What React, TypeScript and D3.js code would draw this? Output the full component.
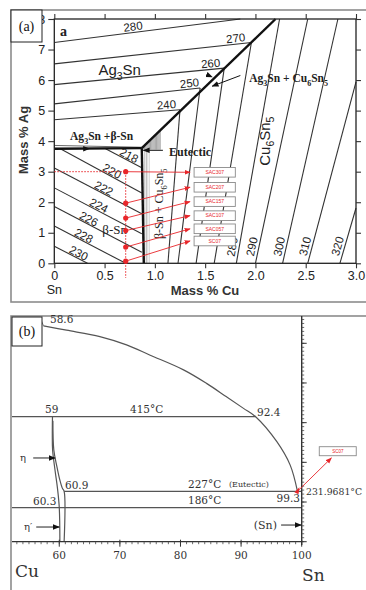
import * as d3 from "d3";
import { useEffect, useRef } from "react";

// ---------- panel (a): Sn-Ag-Cu liquidus projection ----------
const agTicks = [0, 1, 2, 3, 4, 5, 6, 7, 8];
const cuTicks = [0, 0.5, 1, 1.5, 2, 2.5, 3];

// Ag3Sn primary field isotherms (start on Cu = 0 axis, end on valley / top)
const ag3snTemps = [240, 250, 260, 270, 280];
const ag3snStartAg = [4.7, 5.22, 5.85, 6.53, 7.23];
const ag3snEndCu = [1.25, 1.45, 1.69, 1.96, 1.85];
const ag3snEndAg = [5.03, 5.74, 6.39, 7.23, 8];
const ag3snLabelCu = [1.12, 1.35, 1.56, 1.81, 0.79];

// beta-Sn primary field isotherms
const snTemps = [218, 220, 222, 224, 226, 228, 230];
const snStartCu = [0.51, 0.06, 0, 0, 0, 0, 0];
const snStartAg = [3.75, 3.75, 3.12, 2.47, 1.86, 1.22, 0.56];
const snEndCu = [0.87, 0.87, 0.87, 0.87, 0.87, 0.71, 0.33];
const snEndAg = [3.13, 2.3, 1.62, 0.97, 0.36, 0, 0];
const snLabelCu = [0.72, 0.55, 0.47, 0.42, 0.32, 0.27, 0.22];

// Cu6Sn5 primary field isotherms (bottom axis -> valley / top / right)
const cu6Temps = [240, 250, 260, 270, 280, 290, 300, 310, 320];
const cu6BottomCu = [1.13, 1.23, 1.41, 1.59, 1.81, 2.0, 2.27, 2.52, 2.84];
const cu6TopCu = [1.25, 1.45, 1.69, 1.96, 2.24, 2.52, 2.82, 3.0, 3.0];
const cu6TopAg = [5.03, 5.74, 6.39, 7.23, 8, 8, 8, 5.94, 1.81];
const cu6Labelled = [280, 290, 300, 310, 320];

// eutectic point and valleys [Cu, Ag]
const eutectic: [number, number] = [0.87, 3.77];
const valleyAg3Sn: [number, number][] = [[0, 3.75], [0.87, 3.77]];
const valleyCu6: [number, number][] = [[0.87, 3.77], [2.2, 8]];
const valleySn: [number, number][] = [[0.87, 3.77], [0.89, 0]];

// alloys marked in red
const alloyNames = ["SAC307", "SAC207", "SAC157", "SAC107", "SAC057", "SC07"];
const alloyAg = [3.0, 1.97, 1.48, 1.07, 0.53, 0.07];
const alloyCu = 0.71;
const alloyBoxAg = [2.98, 2.49, 2.02, 1.56, 1.13, 0.73];

// ---------- panel (b): Cu-Sn binary ----------
const snTicks = [60, 70, 80, 90, 100];
const tempTicks = [100, 200, 300, 400, 500, 600];
const liqSn = [57.4, 61.2, 66.7, 71.1, 75, 80.5, 84.3, 87.6, 90.4, 92.4, 95.9, 98.1, 99.3];
const liqT = [644, 633, 617, 596, 570, 533, 499, 465, 436, 415, 352, 293, 227];
const etaLeftSn = [58.88, 58.85, 58.9, 59.3, 59.7, 60.0, 60.1];
const etaLeftT = [415, 370, 331, 280, 235, 186, 100];
const etaRightSn = [58.95, 59.1, 59.6, 60.1, 60.5, 60.8, 60.8];
const etaRightT = [405, 331, 290, 255, 235, 227, 100];

const RED = "#e8262a";
const SANS = "Liberation Sans, Arial, sans-serif";
const SERIF = "Liberation Serif, Times New Roman, serif";
const SERIF_B = "DejaVu Serif, serif";

type G = d3.Selection<SVGGElement, unknown, null, undefined>;

// digits become subscripts
function formula(sel: d3.Selection<SVGTextElement, unknown, null, undefined>, str: string, size: number) {
    const parts = str.split(/(\d)/).filter((p) => p !== "");
    let low = false;
    parts.forEach((p) => {
        const isSub = /^\d$/.test(p);
        const ts = sel.append("tspan").text(p);
        if (isSub) {
            ts.attr("font-size", size * 0.7);
            if (!low) ts.attr("dy", size * 0.3);
            low = true;
        } else if (low) {
            ts.attr("dy", -size * 0.3);
            low = false;
        }
    });
}

function lineLabel(g: G, text: string, p1: number[], p2: number[], t: number, dy: number, size: number) {
    const lx = p1[0] + (p2[0] - p1[0]) * t;
    const ly = p1[1] + (p2[1] - p1[1]) * t;
    let ang = (Math.atan2(p2[1] - p1[1], p2[0] - p1[0]) * 180) / Math.PI;
    if (ang > 90) ang -= 180;
    if (ang < -90) ang += 180;
    g.append("text")
        .attr("transform", `translate(${lx},${ly}) rotate(${ang})`)
        .attr("text-anchor", "middle")
        .attr("dy", dy)
        .style("font-family", SANS)
        .style("font-size", `${size}px`)
        .style("fill", "#222")
        .text(text);
}

function addMarkers(svg: d3.Selection<SVGSVGElement, unknown, null, undefined>) {
    const defs = svg.append("defs");
    [["arrBlack", "#111", 7], ["arrRed", RED, 6]].forEach(([id, col, s]) => {
        defs.append("marker")
            .attr("id", id as string)
            .attr("viewBox", "0 0 10 10")
            .attr("refX", 9)
            .attr("refY", 5)
            .attr("markerUnits", "userSpaceOnUse")
            .attr("markerWidth", s as number)
            .attr("markerHeight", s as number)
            .attr("orient", "auto")
            .append("path")
            .attr("d", "M0,1L10,5L0,9z")
            .attr("fill", col as string);
    });
}

function drawPanelA(svg: d3.Selection<SVGSVGElement, unknown, null, undefined>) {
    const x = d3.scaleLinear().domain([0, 3]).range([54.3, 356]);
    const y = d3.scaleLinear().domain([0, 8]).range([263.3, 19]);
    const g = svg.append("g") as G;
    const P = (c: number, a: number) => [x(c), y(a)];

    g.append("rect")
        .attr("x", 11).attr("y", 10).attr("width", 370).attr("height", 292)
        .attr("fill", "white").attr("stroke", "#8c8c8c").attr("stroke-width", 1.6);

    // hatching of the narrow two-phase fields
    const valleyAt = (c: number) => eutectic[1] + ((c - eutectic[0]) * (8 - eutectic[1])) / (2.2 - eutectic[0]);
    d3.range(0.885, 1.06, 0.012).forEach((c) => {
        g.append("line")
            .attr("x1", x(c)).attr("x2", x(c))
            .attr("y1", y(3.72)).attr("y2", y(Math.min(valleyAt(c), 4.45)))
            .attr("stroke", "#666").attr("stroke-width", 0.6);
    });
    [0.9, 0.915, 0.93, 0.945].forEach((c, i) => {
        g.append("line")
            .attr("x1", x(c)).attr("x2", x(c))
            .attr("y1", y(0)).attr("y2", y(3.7))
            .attr("stroke", "#777").attr("stroke-width", 0.6)
            .attr("opacity", i < 2 ? 0.9 : 0.5);
    });

    // Ag3Sn isotherms
    ag3snTemps.forEach((t, i) => {
        const p1 = P(0, ag3snStartAg[i]);
        const p2 = P(ag3snEndCu[i], ag3snEndAg[i]);
        g.append("line").attr("x1", p1[0]).attr("y1", p1[1]).attr("x2", p2[0]).attr("y2", p2[1])
            .attr("stroke", "#333").attr("stroke-width", 1.1);
        lineLabel(g, String(t), p1, p2, ag3snLabelCu[i] / ag3snEndCu[i], -2, 11.5);
    });

    // beta-Sn isotherms
    snTemps.forEach((t, i) => {
        const p1 = P(snStartCu[i], snStartAg[i]);
        const p2 = P(snEndCu[i], snEndAg[i]);
        g.append("line").attr("x1", p1[0]).attr("y1", p1[1]).attr("x2", p2[0]).attr("y2", p2[1])
            .attr("stroke", "#333").attr("stroke-width", 1.1);
        lineLabel(g, String(t), p1, p2, (snLabelCu[i] - snStartCu[i]) / (snEndCu[i] - snStartCu[i]), -1, 11.5);
    });

    // Cu6Sn5 isotherms
    cu6Temps.forEach((t, i) => {
        const p1 = P(cu6BottomCu[i], 0);
        const p2 = P(cu6TopCu[i], cu6TopAg[i]);
        g.append("line").attr("x1", p1[0]).attr("y1", p1[1]).attr("x2", p2[0]).attr("y2", p2[1])
            .attr("stroke", "#333").attr("stroke-width", 1.1);
        if (cu6Labelled.includes(t)) lineLabel(g, String(t), p1, p2, 0.5 / cu6TopAg[i], -3, 11.5);
    });

    // thin line just above the Ag3Sn + beta-Sn valley
    g.append("line").attr("x1", x(0)).attr("x2", x(eutectic[0])).attr("y1", y(3.86)).attr("y2", y(3.8))
        .attr("stroke", "#444").attr("stroke-width", 0.8);

    // valleys (thick)
    const line = d3.line<[number, number]>().x((d) => x(d[0])).y((d) => y(d[1]));
    [valleyAg3Sn, valleyCu6, valleySn].forEach((v) => {
        g.append("path").attr("d", line(v)).attr("fill", "none").attr("stroke", "#111").attr("stroke-width", 2.4);
    });
    // small direction arrowhead on the Ag3Sn / beta-Sn valley
    g.append("line").attr("x1", x(0.25)).attr("x2", x(0.35)).attr("y1", y(3.75)).attr("y2", y(3.75))
        .attr("stroke", "none").attr("marker-end", "url(#arrBlack)");

    // plot frame + axes
    g.append("rect")
        .attr("x", x(0)).attr("y", y(8)).attr("width", x(3) - x(0)).attr("height", y(0) - y(8))
        .attr("fill", "none").attr("stroke", "#222").attr("stroke-width", 1.3);

    const styleAxis = (a: d3.Selection<SVGGElement, unknown, null, undefined>) => {
        a.select(".domain").remove();
        a.selectAll("line").attr("stroke", "#333").attr("stroke-width", 1.1);
        a.selectAll("text").style("font-family", SANS).style("font-size", "12.5px").style("fill", "#222");
    };
    styleAxis(g.append("g").attr("transform", `translate(${x(0)},0)`)
        .call(d3.axisLeft(y).tickValues(agTicks).tickSize(6).tickPadding(3)) as any);
    styleAxis(g.append("g").attr("transform", `translate(${x(3)},0)`)
        .call(d3.axisRight(y).tickValues(agTicks).tickSize(5).tickFormat(() => "")) as any);
    styleAxis(g.append("g").attr("transform", `translate(0,${y(0)})`)
        .call(d3.axisBottom(x).tickValues(cuTicks).tickSize(5).tickPadding(3)
            .tickFormat((d) => (+d === 0 ? "0" : (+d).toFixed(1)))) as any);
    styleAxis(g.append("g").attr("transform", `translate(0,${y(8)})`)
        .call(d3.axisTop(x).tickValues(cuTicks).tickSize(5).tickFormat(() => "")) as any);

    g.append("text").attr("x", x(0)).attr("y", 294).attr("text-anchor", "middle")
        .style("font-family", SANS).style("font-size", "12.5px").style("fill", "#222").text("Sn");
    g.append("text").attr("x", 205).attr("y", 295).attr("text-anchor", "middle")
        .style("font-family", SANS).style("font-weight", "bold").style("font-size", "13px").style("fill", "#333")
        .text("Mass % Cu");
    g.append("text").attr("transform", "translate(28,140) rotate(-90)").attr("text-anchor", "middle")
        .style("font-family", SANS).style("font-weight", "bold").style("font-size", "13px").style("fill", "#333")
        .text("Mass % Ag");

    // field labels
    const lbl = (tx: number, ty: number, str: string, size: number, font: string, bold = false, rot = 0) => {
        const t = g.append("text")
            .attr("transform", `translate(${tx},${ty}) rotate(${rot})`)
            .attr("text-anchor", "middle")
            .style("font-family", font).style("font-size", `${size}px`).style("fill", "#222")
            .style("font-weight", bold ? "bold" : "normal");
        formula(t, str, size);
        return t;
    };
    lbl(x(0.65), y(6.15), "Ag3Sn", 15, SANS);
    lbl(x(2.14), y(4.0), "Cu6Sn5", 15, SANS, false, -90);
    lbl(x(1.08), y(1.95), "β-Sn + Cu6Sn5", 12, SERIF, false, -90);
    lbl(x(0.6), y(0.95), "β-Sn", 13, SERIF);
    lbl(x(0.47), y(4.03), "Ag3Sn +β-Sn", 11.5, SERIF, true);
    lbl(x(1.35), y(3.5), "Eutectic", 12, SERIF, true);
    lbl(x(2.33), y(5.93), "Ag3Sn + Cu6Sn5", 11.5, SERIF, true);
    g.append("text").attr("x", 60).attr("y", 36).style("font-family", SERIF).style("font-weight", "bold")
        .style("font-size", "14px").style("fill", "#222").text("a");

    // pointers
    g.append("line").attr("x1", x(1.08)).attr("y1", y(3.7)).attr("x2", x(0.885)).attr("y2", y(3.7))
        .attr("stroke", "#111").attr("stroke-width", 1).attr("marker-end", "url(#arrBlack)");
    g.append("line").attr("x1", x(1.85)).attr("y1", y(6.15)).attr("x2", x(1.57)).attr("y2", y(5.8))
        .attr("stroke", "#111").attr("stroke-width", 1).attr("marker-end", "url(#arrBlack)");
    g.append("line").attr("x1", x(1.5)).attr("y1", y(6.2)).attr("x2", x(1.57)).attr("y2", y(6.1))
        .attr("stroke", "none").attr("marker-end", "url(#arrBlack)");

    // red alloy annotations
    g.append("line").attr("x1", x(alloyCu)).attr("x2", x(alloyCu)).attr("y1", y(3.08)).attr("y2", y(-0.48))
        .attr("stroke", RED).attr("stroke-width", 1).attr("stroke-dasharray", "1.5,1.5");
    g.append("line").attr("x1", x(0)).attr("x2", x(alloyCu)).attr("y1", y(3)).attr("y2", y(3))
        .attr("stroke", RED).attr("stroke-width", 1).attr("stroke-dasharray", "1.5,1.5");

    alloyNames.forEach((name, i) => {
        const bx0 = x(1.39), bx1 = x(1.8), by = y(alloyBoxAg[i]);
        g.append("rect").attr("x", bx0).attr("y", by - 4.8).attr("width", bx1 - bx0).attr("height", 9.6)
            .attr("fill", "white").attr("stroke", "#8a8a8a").attr("stroke-width", 0.9);
        g.append("text").attr("x", (bx0 + bx1) / 2).attr("y", by + 1.8).attr("text-anchor", "middle")
            .style("font-family", SANS).style("font-size", "5px").style("fill", RED).text(name);
        g.append("line").attr("x1", x(alloyCu)).attr("y1", y(alloyAg[i]))
            .attr("x2", x(1.35)).attr("y2", by)
            .attr("stroke", RED).attr("stroke-width", 0.9).attr("marker-end", "url(#arrRed)");
        g.append("circle").attr("cx", x(alloyCu)).attr("cy", y(alloyAg[i])).attr("r", 2.6).attr("fill", RED);
    });

    // "(a)" tag
    g.append("rect").attr("x", 11).attr("y", 10).attr("width", 31).attr("height", 32)
        .attr("fill", "white").attr("stroke", "#222").attr("stroke-width", 1);
    g.append("text").attr("x", 26.5).attr("y", 31).attr("text-anchor", "middle")
        .style("font-family", SERIF).style("font-size", "14px").style("fill", "#111").text("(a)");
}

function drawPanelB(svg: d3.Selection<SVGSVGElement, unknown, null, undefined>) {
    const x = d3.scaleLinear().domain([52.2, 100]).range([12, 301.7]);
    const y = d3.scaleLinear().domain([100, 600]).range([541.7, 343.3]);
    const g = svg.append("g") as G;
    const ink = "#555";

    g.append("rect").attr("x", 11).attr("y", 316).attr("width", 370).attr("height", 300)
        .attr("fill", "white").attr("stroke", "#8c8c8c").attr("stroke-width", 1.6);

    const curve = d3.line<[number, number]>().x((d) => x(d[0])).y((d) => y(d[1])).curve(d3.curveCatmullRom);
    g.append("path").attr("d", curve(liqSn.map((s, i) => [s, liqT[i]] as [number, number])))
        .attr("fill", "none").attr("stroke", ink).attr("stroke-width", 1.2);
    g.append("path").attr("d", curve(etaLeftSn.map((s, i) => [s, etaLeftT[i]] as [number, number])))
        .attr("fill", "none").attr("stroke", ink).attr("stroke-width", 1.2);
    g.append("path").attr("d", curve(etaRightSn.map((s, i) => [s, etaRightT[i]] as [number, number])))
        .attr("fill", "none").attr("stroke", ink).attr("stroke-width", 1.2);

    const hline = (a: number, b: number, t: number) =>
        g.append("line").attr("x1", x(a)).attr("x2", x(b)).attr("y1", y(t)).attr("y2", y(t))
            .attr("stroke", ink).attr("stroke-width", 1.2);
    hline(52.2, 92.4, 415);
    hline(60.8, 100, 227);
    hline(52.2, 100, 186);
    g.append("line").attr("x1", 41.5).attr("y1", 321).attr("x2", x(57.4)).attr("y2", y(644))
        .attr("stroke", ink).attr("stroke-width", 0.8);

    // axes
    const xa = g.append("g").attr("transform", `translate(0,${y(100)})`);
    xa.append("line").attr("x1", x(52.2)).attr("x2", x(100)).attr("stroke", "#333").attr("stroke-width", 1.2);
    d3.range(53, 100).forEach((s) => {
        xa.append("line").attr("x1", x(s)).attr("x2", x(s)).attr("y1", 0).attr("y2", 2.5)
            .attr("stroke", "#444").attr("stroke-width", 0.8);
    });
    snTicks.forEach((s) => {
        xa.append("line").attr("x1", x(s)).attr("x2", x(s)).attr("y1", -2).attr("y2", 5)
            .attr("stroke", "#333").attr("stroke-width", 1);
        xa.append("text").attr("x", x(s)).attr("y", 17).attr("text-anchor", "middle")
            .style("font-family", SERIF_B).style("font-size", "10.5px").style("fill", "#333").text(s);
    });
    const ya = g.append("g").attr("transform", `translate(${x(100)},0)`);
    ya.append("line").attr("y1", 316).attr("y2", 545).attr("stroke", "#333").attr("stroke-width", 1.4);
    d3.range(100, 670, 10).forEach((t) => {
        ya.append("line").attr("x1", 0).attr("x2", 2.5).attr("y1", y(t)).attr("y2", y(t))
            .attr("stroke", "#444").attr("stroke-width", 0.8);
    });
    tempTicks.forEach((t) => {
        ya.append("line").attr("x1", 0).attr("x2", 5).attr("y1", y(t)).attr("y2", y(t))
            .attr("stroke", "#333").attr("stroke-width", 1);
    });

    const txt = (tx: number, ty: number, s: string, size = 10.5, anchor = "start") =>
        g.append("text").attr("x", tx).attr("y", ty).attr("text-anchor", anchor)
            .style("font-family", SERIF_B).style("font-size", `${size}px`).style("fill", "#333").text(s);
    txt(50, 323, "58.6");
    txt(45, 413, "59");
    txt(130, 413, "415°C");
    txt(257, 416, "92.4");
    txt(65, 489, "60.9");
    txt(188, 488, "227°C");
    txt(229, 487, "(Eutectic)", 8);
    txt(33, 505, "60.3");
    txt(188, 504, "186°C");
    txt(300, 502, "99.3", 10.5, "end");
    txt(306, 495, "231.9681°C", 9.3);
    txt(15, 577, "Cu", 17);
    txt(302, 581, "Sn", 17);
    txt(20, 461, "η", 10);
    txt(24, 530, "η′", 10);
    txt(277, 529, "(Sn)", 11, "end");

    const arrow = (a: number, b: number, t: number) =>
        g.append("line").attr("x1", x(a)).attr("x2", x(b)).attr("y1", y(t)).attr("y2", y(t))
            .attr("stroke", "#222").attr("stroke-width", 1).attr("marker-end", "url(#arrBlack)");
    arrow(55.7, 59.3, 311);
    arrow(56.2, 60.0, 137);
    arrow(96.6, 99.9, 142);

    // red annotation for SC07
    g.append("line").attr("x1", x(99.3)).attr("y1", y(227)).attr("x2", x(104.9)).attr("y2", y(311))
        .attr("stroke", RED).attr("stroke-width", 0.9).attr("marker-end", "url(#arrRed)");
    g.append("path")
        .attr("d", `M${x(99.3) - 3},${y(227) + 1}L${x(99.3) + 2},${y(227) - 4}L${x(99.3) + 1},${y(227) + 3}Z`)
        .attr("fill", RED);
    g.append("rect").attr("x", x(102.9)).attr("y", y(339.4)).attr("width", x(109) - x(102.9))
        .attr("height", y(316.7) - y(339.4)).attr("fill", "white").attr("stroke", "#8a8a8a").attr("stroke-width", 0.9);
    g.append("text").attr("x", (x(102.9) + x(109)) / 2).attr("y", y(328) + 1.5).attr("text-anchor", "middle")
        .style("font-family", SANS).style("font-size", "4.5px").style("fill", RED).text("SC07");

    // "(b)" tag
    g.append("rect").attr("x", 12).attr("y", 317).attr("width", 30).attr("height", 29)
        .attr("fill", "white").attr("stroke", "#222").attr("stroke-width", 1);
    g.append("text").attr("x", 27).attr("y", 336).attr("text-anchor", "middle")
        .style("font-family", SERIF).style("font-size", "14px").style("fill", "#111").text("(b)");
}

export default function App() {
    const ref = useRef<SVGSVGElement | null>(null);

    useEffect(() => {
        if (!ref.current) return;
        const svg = d3.select(ref.current);
        svg.selectAll("*").remove();
        addMarkers(svg);
        drawPanelA(svg);
        drawPanelB(svg);
    }, []);

    return (
        <div style={{ position: "absolute", left: 0, top: 0 }}>
            <svg ref={ref} width={366} height={590} style={{ display: "block", background: "white" }}></svg>
        </div>
    );
}
